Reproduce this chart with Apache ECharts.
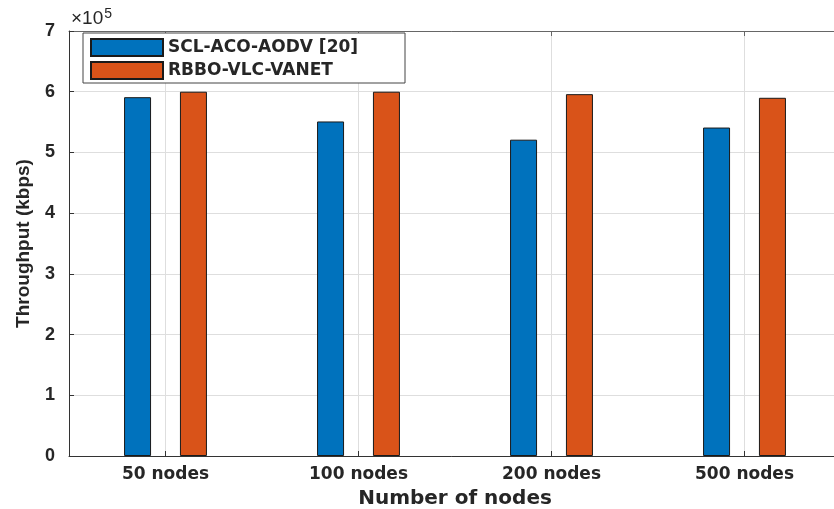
<!DOCTYPE html>
<html>
<head>
<meta charset="utf-8">
<script src="https://cdn.jsdelivr.net/npm/echarts@6/dist/echarts.min.js"></script>
<style>
  html, body { margin: 0; padding: 0; background: #fff; }
</style>
</head>
<body>
<div id="main" style="width:834px;height:509px;"></div>
<script>
  // categories and series (throughput in kbps)
  var categories = ['50 nodes', '100 nodes', '200 nodes', '500 nodes']
  var sclAcoAodv = [591000, 551000, 521000, 541000]
  var rbboVlcVanet = [600000, 600000, 596000, 590000]
  var seriesNames = ['SCL-ACO-AODV [20]', 'RBBO-VLC-VANET']

  var textColor = '#262626'
  var gridColor = '#dedede'

  var chart = echarts.init(document.getElementById('main'))
  var option = {
    animation: false,
    backgroundColor: '#fff',
    graphic: [
      {
        type: 'text',
        left: 71,
        top: 7,
        style: {
          text: '×10{sup|5}',
          rich: {
            sup: { fontSize: 14, verticalAlign: 'top', padding: [0, 0, 9, 1], fontFamily: 'Liberation Sans', fill: textColor }
          },
          fontSize: 19,
          fontFamily: 'Liberation Sans',
          fill: textColor
        }
      }
    ],
    legend: {
      orient: 'vertical',
      left: 83,
      top: 33,
      data: seriesNames,
      icon: 'rect',
      itemWidth: 72,
      itemHeight: 17,
      itemGap: 4,
      padding: [5, 7, 3, 7],
      borderColor: '#444',
      borderWidth: 1,
      backgroundColor: '#fff',
      selectedMode: false,
      textStyle: {
        fontFamily: 'DejaVu Sans',
        fontWeight: 'bold',
        fontSize: 17,
        color: textColor,
        width: 230,
        backgroundColor: 'rgba(255,255,255,0.01)'
      }
    },
    grid: {
      left: 69,
      right: -7,
      top: 31,
      bottom: 53,
      outerBoundsMode: 'none'
    },
    xAxis: [
      {
        type: 'category',
        data: categories,
        name: 'Number of nodes',
        nameLocation: 'middle',
        nameGap: 33,
        nameTextStyle: {
          fontFamily: 'DejaVu Sans',
          fontWeight: 'bold',
          fontSize: 20,
          color: textColor
        },
        axisLine: { lineStyle: { color: '#333', width: 1 } },
        axisTick: { show: true, inside: true, length: 5, alignWithLabel: true, lineStyle: { color: '#333' } },
        axisLabel: {
          margin: 10,
          fontFamily: 'DejaVu Sans',
          fontWeight: 'bold',
          fontSize: 17,
          color: textColor
        },
        splitLine: { show: true, alignWithLabel: true, lineStyle: { color: gridColor, width: 1 } }
      },
      {
        type: 'category',
        data: categories,
        position: 'top',
        axisLine: { lineStyle: { color: '#666', width: 1 } },
        axisTick: { show: true, inside: true, length: 5, alignWithLabel: true, lineStyle: { color: '#666' } },
        axisLabel: { show: false },
        splitLine: { show: false }
      }
    ],
    yAxis: {
      type: 'value',
      min: 0,
      max: 700000,
      interval: 100000,
      name: 'Throughput (kbps)',
      nameLocation: 'middle',
      nameGap: 36,
      nameTextStyle: {
        fontFamily: 'Liberation Sans',
        fontWeight: 'bold',
        fontSize: 19,
        color: textColor
      },
      axisLine: { show: true, lineStyle: { color: '#333', width: 1 } },
      axisTick: { show: true, inside: true, length: 5, lineStyle: { color: '#333' } },
      axisLabel: {
        margin: 14,
        fontFamily: 'Liberation Sans',
        fontWeight: 'bold',
        fontSize: 18,
        color: textColor,
        formatter: function (v) { return v / 100000 }
      },
      splitLine: { show: true, lineStyle: { color: gridColor, width: 1 } }
    },
    series: [
      {
        name: seriesNames[0],
        type: 'bar',
        data: sclAcoAodv,
        barWidth: 27,
        barGap: '107%',
        itemStyle: { color: '#0072BD', borderColor: '#1a1a1a', borderWidth: 1 }
      },
      {
        name: seriesNames[1],
        type: 'bar',
        data: rbboVlcVanet,
        barWidth: 27,
        barGap: '107%',
        itemStyle: { color: '#D95319', borderColor: '#1a1a1a', borderWidth: 1 }
      }
    ]
  }
  chart.setOption(option)
</script>
</body>
</html>
